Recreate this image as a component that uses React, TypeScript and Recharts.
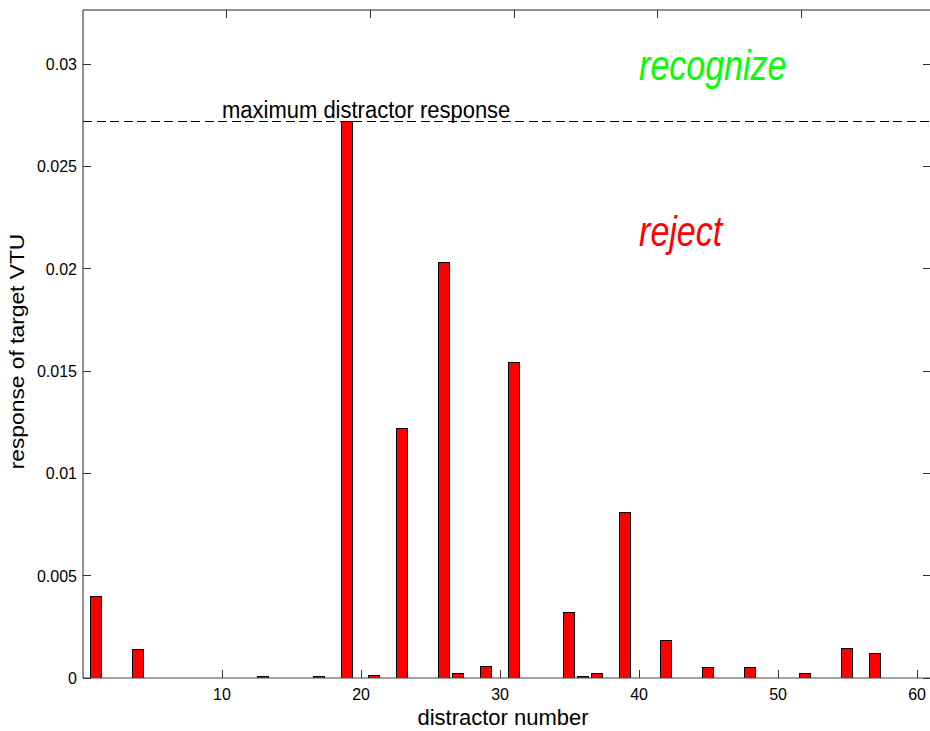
import React from 'react';
import { BarChart, Bar, XAxis, YAxis, ReferenceLine, ReferenceDot } from 'recharts';

const distractorNumbers = [
  1, 2, 3, 4, 5, 6, 7, 8, 9, 10,
  11, 12, 13, 14, 15, 16, 17, 18, 19, 20,
  21, 22, 23, 24, 25, 26, 27, 28, 29, 30,
  31, 32, 33, 34, 35, 36, 37, 38, 39, 40,
  41, 42, 43, 44, 45, 46, 47, 48, 49, 50,
  51, 52, 53, 54, 55, 56, 57, 58, 59, 60,
];

const responses = [
  0.0040, 0, 0, 0.0014, 0, 0, 0, 0, 0, 0,
  0, 0, 0.00006, 0, 0, 0, 0.00005, 0, 0.0272, 0,
  0.00013, 0, 0.0122, 0, 0, 0.0203, 0.0002, 0, 0.00056, 0,
  0.0154, 0, 0, 0, 0.0032, 0.00007, 0.0002, 0, 0.0081, 0,
  0, 0.00185, 0, 0, 0.00049, 0, 0, 0.00049, 0, 0,
  0, 0.0002, 0, 0, 0.00142, 0, 0.00119, 0, 0, 0,
];

const xTicks = [10, 20, 30, 40, 50, 60];
const yTicks = [0, 0.005, 0.01, 0.015, 0.02, 0.025, 0.03];
const yTickLabels = ['0', '0.005', '0.01', '0.015', '0.02', '0.025', '0.03'];
const xDomain: [number, number] = [0, 61];

const maxResponse = Math.max(...responses);
const yMax = maxResponse * 1.2;

const annotations = {
  maxLabelX: 10,
  recognizeX: 40,
  recognizeY: 0.0292,
  rejectX: 40,
  rejectY: 0.0211,
};

const data = distractorNumbers.map((n, i) => ({ x: n, response: responses[i] }));

const FONT = '"Liberation Sans", Arial, Helvetica, sans-serif';
const TICK_LEN = 8;
const TICK_COLOR = '#333';
const AXIS_COLOR = '#222';

const BarShape = (props: any) => {
  const { x, y, width, height } = props;
  if (!height || Math.abs(height) < 0.5) {
    return (
      <line x1={x} x2={x + width} y1={y} y2={y} stroke="#000" strokeWidth={1} shapeRendering="crispEdges" />
    );
  }
  return (
    <rect x={x} y={y} width={width} height={height} fill="#ff0000" stroke="#000" strokeWidth={1} shapeRendering="crispEdges" />
  );
};

const BottomTick = (props: any) => {
  const { x, y, payload } = props;
  return (
    <g>
      <line x1={x} x2={x} y1={y} y2={y - TICK_LEN} stroke={TICK_COLOR} strokeWidth={1} shapeRendering="crispEdges" />
      <text x={x} y={y + 22} textAnchor="middle" fontSize={16} fontFamily={FONT} fill="#000">
        {payload.value}
      </text>
    </g>
  );
};

const TopTick = (props: any) => {
  const { x, y } = props;
  return <line x1={x} x2={x} y1={y} y2={y + TICK_LEN} stroke={TICK_COLOR} strokeWidth={1} shapeRendering="crispEdges" />;
};

const LeftTick = (props: any) => {
  const { x, y, payload } = props;
  const idx = yTicks.findIndex((t) => Math.abs(t - payload.value) < 1e-9);
  return (
    <g>
      <line x1={x} x2={x + TICK_LEN} y1={y} y2={y} stroke={TICK_COLOR} strokeWidth={1} shapeRendering="crispEdges" />
      <text x={x - 6} y={y + 6} textAnchor="end" fontSize={16} fontFamily={FONT} fill="#000">
        {idx >= 0 ? yTickLabels[idx] : String(payload.value)}
      </text>
    </g>
  );
};

const RightTick = (props: any) => {
  const { x, y } = props;
  return <line x1={x} x2={x - TICK_LEN} y1={y} y2={y} stroke={TICK_COLOR} strokeWidth={1} shapeRendering="crispEdges" />;
};

const XLabel = (props: any) => {
  const vb = props.viewBox || { x: 83, y: 678, width: 848, height: 52 };
  return (
    <text x={vb.x + vb.width / 2 - 4} y={vb.y + 47} textAnchor="middle" fontSize={22} fontFamily={FONT} fill="#000">
      distractor number
    </text>
  );
};

const YLabel = (props: any) => {
  const vb = props.viewBox || { x: 0, y: 10, width: 83, height: 668 };
  const cx = vb.x + 23.5;
  const cy = vb.y + vb.height / 2 + 7.5;
  return (
    <text
      transform={`translate(${cx},${cy}) rotate(-90) scale(1.14,1)`}
      x={0}
      y={0}
      textAnchor="middle"
      fontSize={20}
      fontFamily={FONT}
      fill="#000"
    >
      response of target VTU
    </text>
  );
};

const makeText = (text: string, color: string, size: number, italic: boolean, sy: number, dy: number) =>
  (props: any) => {
    const { cx, cy } = props;
    return (
      <text
        transform={`translate(${cx},${cy + dy}) scale(1,${sy})`}
        x={0}
        y={0}
        fontSize={size}
        fontStyle={italic ? 'italic' : 'normal'}
        fontFamily={FONT}
        fill={color}
      >
        {text}
      </text>
    );
  };

export default function App() {
  return (
    <div style={{ position: 'fixed', left: 0, top: 0, width: 930, height: 731, overflow: 'hidden', background: '#fff' }}>
      <BarChart
        width={932}
        height={730}
        data={data}
        margin={{ top: 9, right: 0, left: 0, bottom: 0 }}
      >
        <XAxis
          dataKey="x"
          type="number"
          domain={xDomain}
          ticks={xTicks}
          interval={0}
          allowDataOverflow
          height={52}
          tickSize={0}
          tickMargin={0}
          tickLine={false}
          tick={BottomTick}
          axisLine={{ stroke: '#444' }}
          label={{ content: XLabel }}
        />
        <XAxis
          xAxisId="top"
          orientation="top"
          type="number"
          domain={xDomain}
          ticks={xTicks}
          interval={0}
          allowDataOverflow
          height={1}
          tickSize={0}
          tickMargin={0}
          tickLine={false}
          tick={TopTick}
          axisLine={{ stroke: AXIS_COLOR }}
        />
        <YAxis
          type="number"
          domain={[0, yMax]}
          ticks={yTicks}
          interval={0}
          allowDataOverflow
          width={83}
          tickSize={0}
          tickMargin={0}
          tickLine={false}
          tick={LeftTick}
          axisLine={{ stroke: AXIS_COLOR }}
          label={{ content: YLabel }}
        />
        <YAxis
          yAxisId="right"
          orientation="right"
          type="number"
          domain={[0, yMax]}
          ticks={yTicks}
          interval={0}
          allowDataOverflow
          width={1}
          tickSize={0}
          tickMargin={0}
          tickLine={false}
          tick={RightTick}
          axisLine={{ stroke: AXIS_COLOR }}
        />
        <Bar dataKey="response" barSize={11} isAnimationActive={false} shape={BarShape} />
        <ReferenceLine y={maxResponse} stroke="#000" strokeWidth={1} strokeDasharray="9 4.5" shapeRendering="crispEdges" />
        <ReferenceDot
          x={annotations.maxLabelX}
          y={maxResponse}
          r={0}
          shape={makeText('maximum distractor response', '#000', 22, false, 1.1, -3)}
        />
        <ReferenceDot
          x={annotations.recognizeX}
          y={annotations.recognizeY}
          r={0}
          shape={makeText('recognize', '#00ff00', 34, true, 1.27, 0)}
        />
        <ReferenceDot
          x={annotations.rejectX}
          y={annotations.rejectY}
          r={0}
          shape={makeText('reject', '#ff0000', 34, true, 1.27, 0)}
        />
      </BarChart>
    </div>
  );
}
